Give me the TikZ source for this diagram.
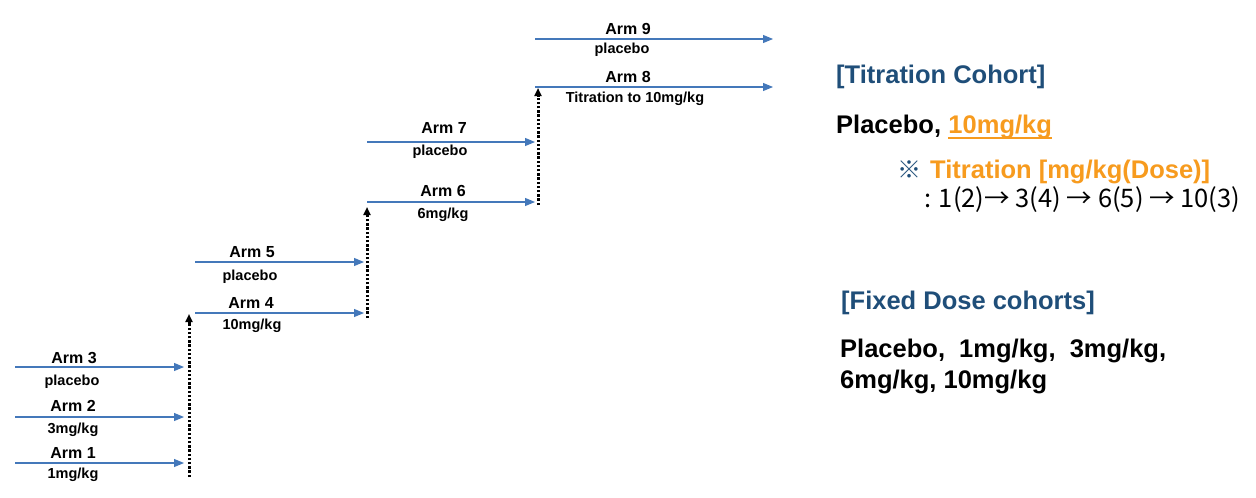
\documentclass[tikz,border=0pt]{standalone}
\usepackage{fontspec}
\setmainfont{Liberation Sans}
\newfontfamily\cjk{Noto Sans CJK KR}
\usetikzlibrary{arrows.meta}
\definecolor{armblue}{RGB}{68,120,186}
\definecolor{ttlblue}{RGB}{31,78,121}
\definecolor{dorange}{RGB}{247,155,30}
\tikzset{
  armlbl/.style={font=\fontsize{16}{18}\selectfont\bfseries, anchor=base, inner sep=0pt},
  sublbl/.style={font=\fontsize{14.5}{17}\selectfont\bfseries, anchor=base, inner sep=0pt},
  flow/.style={draw=armblue, line width=1.1pt, -{Triangle[length=10pt,width=8pt]}},
  stepline/.style={draw=black, line width=3pt, dash pattern=on 2.4pt off 1.8pt, -{Triangle[length=8pt,width=7pt]}},
  bigtxt/.style={font=\fontsize{25.5}{30}\selectfont\bfseries, anchor=base west, inner sep=0pt},
}
\begin{document}
\begin{tikzpicture}[x=1pt,y=-1pt]
\path[use as bounding box, fill=white] (0,0) rectangle (1256,498);

% arm arrow end points
\coordinate (a1s) at (15,463);  \coordinate (a1e) at (184,463);
\coordinate (a2s) at (15,417);  \coordinate (a2e) at (184,417);
\coordinate (a3s) at (15,367);  \coordinate (a3e) at (184,367);
\coordinate (a4s) at (195,313); \coordinate (a4e) at (364,313);
\coordinate (a5s) at (195,262); \coordinate (a5e) at (364,262);
\coordinate (a6s) at (367,202); \coordinate (a6e) at (535,202);
\coordinate (a7s) at (367,142); \coordinate (a7e) at (535,142);
\coordinate (a8s) at (535,87);  \coordinate (a8e) at (773,87);
\coordinate (a9s) at (535,39);  \coordinate (a9e) at (773,39);

\foreach \i in {1,...,9} { \draw[flow] (a\i s) -- (a\i e); }

% dotted steps
\coordinate (d1s) at (189,477); \coordinate (d1e) at (189,314);
\coordinate (d2s) at (367,318); \coordinate (d2e) at (367,207);
\coordinate (d3s) at (538,205); \coordinate (d3e) at (538,88);
\draw[stepline] (d1s) -- (d1e);
\draw[stepline] (d2s) -- (d2e);
\draw[stepline] (d3s) -- (d3e);

% labels
\node[armlbl] (l1) at (73,458) {Arm 1};
\node[sublbl] (s1) at (73,478) {1mg/kg};
\node[armlbl] (l2) at (73,411) {Arm 2};
\node[sublbl] (s2) at (73,433) {3mg/kg};
\node[armlbl] (l3) at (74,363) {Arm 3};
\node[sublbl] (s3) at (72,385) {placebo};
\node[armlbl] (l4) at (251,308) {Arm 4};
\node[sublbl] (s4) at (252,329) {10mg/kg};
\node[armlbl] (l5) at (252,257) {Arm 5};
\node[sublbl] (s5) at (250,280) {placebo};
\node[armlbl] (l6) at (443,196) {Arm 6};
\node[sublbl] (s6) at (443,218) {6mg/kg};
\node[armlbl] (l7) at (444,133) {Arm 7};
\node[sublbl] (s7) at (440,155) {placebo};
\node[armlbl] (l8) at (628,82) {Arm 8};
\node[sublbl] (s8) at (635,102) {Titration to 10mg/kg};
\node[armlbl] (l9) at (628,34) {Arm 9};
\node[sublbl] (s9) at (622,53) {placebo};

% right-hand text
\node[bigtxt, text=ttlblue] (tc) at (836,83) {[Titration Cohort]};
\node[bigtxt] (tp) at (836,133) {Placebo,};
\node[bigtxt, text=dorange] (tten) at ([xshift=7pt]tp.base east) {10mg/kg};
\draw[dorange, line width=1.8pt] ([yshift=-5pt]tten.base west) -- ([yshift=-5pt]tten.base east);
\node[anchor=base west, inner sep=0pt, text=ttlblue, font=\cjk\fontsize{24}{28}\selectfont] (ref) at (897,178) {※};
\node[bigtxt, text=dorange] (tt) at (930,178) {Titration [mg/kg(Dose)]};
\node[anchor=base west, inner sep=0pt, font=\cjk\fontsize{25.5}{30}\selectfont] (seq) at (924,207) {: 1(2)→ 3(4) → 6(5) → 10(3)};

\node[bigtxt, text=ttlblue] (fd) at (841,309) {[Fixed Dose cohorts]};
\node[bigtxt] (fl1) at (840,357) {Placebo,\ \ 1mg/kg,\ \ 3mg/kg,};
\node[bigtxt] (fl2) at (840,388) {6mg/kg, 10mg/kg};
\end{tikzpicture}
\end{document}
